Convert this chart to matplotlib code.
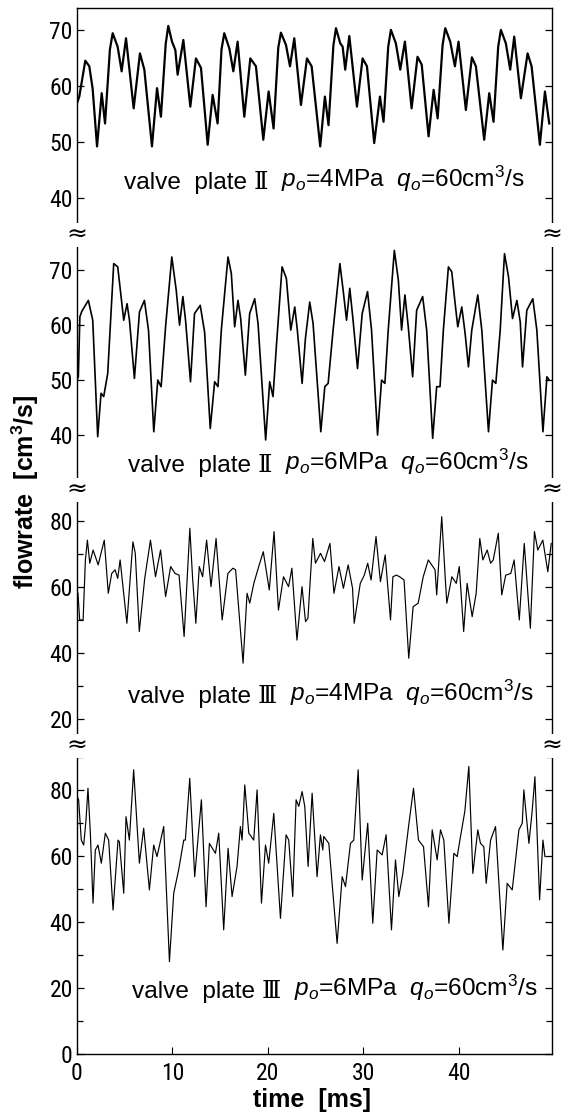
import matplotlib.pyplot as plt
from matplotlib.ticker import MultipleLocator

plt.rcParams['mathtext.fontset'] = 'custom'
plt.rcParams['mathtext.rm'] = 'Liberation Sans'
plt.rcParams['mathtext.it'] = 'Liberation Sans:italic'
plt.rcParams['mathtext.bf'] = 'Liberation Sans:bold'

# narrow face for the tick numbers, first one found is used
TICK_FONT = ['Liberation Sans Narrow', 'Noto Sans Condensed', 'Roboto Condensed',
             'Open Sans Condensed', 'DejaVu Sans Condensed', 'Liberation Sans']

# valve plate II, po=4MPa
time_1 = [0, 0.24, 0.87, 1.29, 1.64, 2.10, 2.59, 2.94, 3.45, 3.74, 4.26, 4.68, 5.14, 5.94, 6.60, 7.06,
          7.86, 8.39, 8.80, 9.30, 9.57, 9.96, 10.31, 10.55, 11.15, 11.88, 12.47, 13.0, 13.70, 14.22,
          14.74, 15.15, 15.44, 15.97, 16.39, 16.84, 17.54, 18.17, 18.76, 19.53, 20.09, 20.61, 21.10,
          21.38, 21.91, 22.33, 22.78, 23.48, 24.11, 24.6, 25.50, 25.99, 26.37, 26.88, 27.15, 27.6,
          27.85, 28.12, 28.55, 29.35, 29.94, 30.40, 31.16, 31.76, 32.14, 32.63, 32.91, 33.43, 33.89,
          34.38, 35.08, 35.70, 36.14, 36.86, 37.39, 37.81, 38.33, 38.61, 39.13, 39.62, 40.0, 40.77,
          41.40, 41.82, 42.69, 43.22, 43.67, 44.16, 44.44, 44.96, 45.42, 45.84, 46.54, 47.24, 47.66,
          48.53, 49.06, 49.51]
flow_1 = [56.9, 58.1, 64.5, 63.5, 59.5, 49.2, 58.7, 53.3, 66.5, 69.4, 67.0, 62.6, 68.5, 56.0, 65.8, 62.9,
          49.2, 59.6, 54.5, 67.5, 70.7, 67.9, 66.4, 62.0, 68.2, 56.3, 64.9, 63.2, 49.5, 58.4,
          53.3, 66.5, 69.4, 66.7, 62.6, 67.9, 54.5, 64.9, 63.5, 50.4, 59.0, 52.4, 66.8,
          69.5, 67.3, 63.5, 68.5, 56.6, 64.9, 63.5, 49.2, 58.1, 53.0, 67.2, 70.3, 67.6,
          67.0, 62.9, 68.9, 56.3, 64.9, 63.5, 49.8, 58.1, 53.6, 67.0, 70.0, 67.6, 62.9,
          67.9, 56.0, 65.2, 63.8, 51.0, 59.3, 54.2, 67.3, 70.3, 67.9, 63.5, 67.9, 55.7,
          65.1, 63.5, 50.4, 58.7, 53.6, 67.0, 70.0, 67.6, 62.9, 68.8, 57.8, 65.8, 63.5,
          49.5, 59.0, 53.3]

# valve plate II, po=6MPa
time_2 = [0, 0.14, 0.3, 0.5, 1.19, 1.65, 2.17, 2.52, 2.8, 3.22, 3.85, 4.27, 4.9, 5.25, 5.5, 6.02,
          6.55, 7.07, 7.5, 8.05, 8.47, 8.82, 9.3, 9.94, 10.40, 10.75, 11.10, 11.38, 11.90, 12.32,
          12.92, 13.38, 13.97, 14.43, 14.78, 15.13, 15.83, 16.18, 16.53, 16.88, 17.16, 17.65,
          18.10, 18.63, 18.98, 19.78, 20.2, 20.55, 20.9, 21.50, 21.95, 22.41, 22.83, 23.1, 23.60,
          23.95, 24.40, 24.75, 25.56, 25.98, 26.33, 26.85, 27.56, 27.9, 28.26, 28.6, 28.96, 29.41,
          29.9, 30.46, 30.88, 31.51, 31.93, 32.28, 32.63, 33.27, 33.69, 34.03, 34.38, 34.73, 35.19,
          35.61, 36.24, 36.66, 37.29, 37.71, 38.06, 38.41, 38.94, 39.29, 39.64, 39.92, 40.34, 40.69,
          41.04, 41.39, 42.02, 42.44, 43.14, 43.56, 43.91, 44.37, 44.82, 45.24, 45.66, 46.12, 46.47,
          46.71, 47.16, 47.79, 48.21, 48.85, 49.27, 49.5]
flow_2 = [50.0, 50.6, 61.5, 62.5, 64.5, 60.9, 39.7, 47.6, 47.0, 51.2, 71.2, 70.6, 60.9, 63.9, 60.9, 50.3,
          62.4, 64.5, 59.0, 40.6, 50.0, 48.8, 60.0, 72.4, 66.4, 60.0, 65.2, 60.9, 49.7, 62.1,
          63.6, 58.7, 41.2, 49.7, 48.8, 59.1, 72.4, 69.4, 59.7, 64.5, 61.2, 50.9,
          62.1, 64.8, 60.3, 39.1, 49.7, 47.0, 56.1, 70.6, 68.5, 59.1, 63.3, 59.1, 49.4,
          57.6, 64.2, 60.3, 40.6, 48.8, 49.4, 59.1, 71.2, 66.4, 60.9, 66.7, 60.6, 52.1,
          62.1, 66.1, 59.1, 40.0, 50.0, 49.4, 59.1, 73.6, 68.2, 59.1, 65.5, 59.7, 50.6,
          62.7, 65.2, 59.1, 39.4, 48.8, 48.8, 59.1, 70.6, 69.7, 64.0, 59.7, 63.3, 58.5,
          52.4, 59.1, 65.5, 59.1, 40.6, 50.0, 49.4, 59.1, 73.0, 68.8, 61.2, 64.5, 60.6,
          52.4, 62.7, 64.8, 59.1, 40.6, 50.6, 50.0]

# valve plate III, po=4MPa
time_3 = [0.1, 0.28, 0.64, 0.88, 1.09, 1.34, 1.69, 2.22, 2.86, 3.28, 3.64, 3.99, 4.27, 4.52, 5.23,
          5.86, 6.11, 6.53, 7.10, 7.70, 8.23, 8.76, 9.29, 9.82, 10.28, 10.70, 11.23, 11.83, 12.11,
          12.46, 12.82, 13.17, 13.59, 14.05, 14.58, 15.22, 15.82, 16.35, 16.63, 17.41, 17.83, 18.11,
          18.54, 19.0, 19.53, 20.16, 20.66, 21.12, 21.65, 22.18, 22.53, 23.06, 23.59, 23.96, 24.21,
          24.72, 25.0, 25.53, 25.95, 26.52, 26.94, 27.47, 27.93, 28.43, 28.89, 29.06, 29.70, 30.12,
          30.48, 30.83, 31.35, 31.81, 32.31, 32.87, 33.12, 33.48, 33.83, 34.29, 34.78, 35.24, 35.77,
          36.30, 36.83, 37.54, 37.71, 38.24, 38.60, 38.77, 39.30, 39.76, 40.08, 40.54, 40.90, 41.43,
          41.85, 42.23, 42.55, 43.01, 43.36, 43.64, 44.17, 44.53, 44.95, 45.48, 45.83, 46.37, 46.89,
          47.53, 47.96, 48.31, 48.84, 49.36, 49.72]
flow_3 = [58.1, 50.0, 50.0, 68.2, 74.2, 67.2, 71.2, 66.7, 74.2, 58.1, 64.1, 65.2, 62.6, 68.2, 49.0,
          73.7, 70.2, 46.5, 62.6, 74.2, 63.1, 71.2, 57.1, 66.2, 64.1, 63.6, 45.0, 77.8, 63.1,
          49.0, 66.2, 63.1, 74.2, 60.1, 74.7, 50.0, 64.1, 65.7, 65.2, 36.9, 58.1, 55.1,
          61.1, 65.7, 70.7, 59.1, 76.8, 53.0, 63.1, 60.1, 65.7, 43.9, 60.1, 49.5, 50.5,
          74.7, 67.2, 70.2, 67.7, 73.2, 58.1, 66.2, 59.6, 66.7, 59.6, 49.0, 61.1, 63.6,
          67.2, 62.1, 75.3, 61.6, 69.7, 50.0, 63.1, 63.6, 63.1, 62.1, 38.4, 54.0, 55.1,
          63.1, 68.2, 65.2, 57.6, 81.3, 63.1, 55.1, 63.1, 61.1, 66.2, 46.5, 61.1, 51.0,
          58.1, 74.7, 68.2, 71.2, 67.2, 68.2, 76.3, 57.6, 63.6, 64.1, 68.2, 50.0, 73.2,
          47.5, 76.8, 71.2, 74.2, 64.6, 73.2]

# valve plate III, po=6MPa
time_4 = [0, 0.17, 0.45, 0.70, 0.94, 1.15, 1.40, 1.68, 1.92, 2.2, 2.55, 2.97, 3.32, 3.78, 4.30, 4.44,
          4.90, 5.14, 5.49, 5.94, 6.54, 6.99, 7.59, 8.04, 8.39, 9.09, 9.69, 10.14, 10.66, 11.19,
          11.36, 11.82, 12.34, 13.04, 13.53, 13.88, 14.51, 14.86, 15.38, 15.84, 16.26, 16.78, 17.13,
          17.31, 17.59, 18.01, 18.53, 18.88, 19.34, 19.76, 20.1, 20.63, 21.33, 21.92, 22.2, 22.62,
          22.97, 23.25, 23.60, 23.88, 24.23, 24.65, 25.17, 25.52, 25.77, 25.87, 26.40, 27.27, 27.80,
          28.15, 28.67, 29.02, 29.48, 29.90, 30.48, 31.01, 31.47, 31.99, 32.41, 32.97, 33.39, 33.74,
          34.16, 34.76, 35.28, 35.80, 36.33, 36.85, 37.24, 37.76, 38.11, 38.46, 38.99, 39.51, 39.86,
          40.21, 40.66, 41.08, 41.50, 42.02, 42.30, 42.65, 42.90, 43.36, 43.88, 44.65, 45.10, 45.63,
          46.33, 46.68, 46.85, 47.38, 47.73, 48.01, 48.50, 48.85, 49.06]
flow_4 = [78.0, 77.0, 64.8, 63.3, 70.7, 80.5, 66.9, 45.7, 61.8, 63.3, 57.8, 66.9, 64.8, 43.6, 64.8, 64.3,
          48.7, 71.9, 64.8, 86.1, 57.8, 68.4, 49.7, 63.3, 59.8, 68.9, 28.0, 48.7, 55.8, 64.8,
          64.8, 83.5, 53.7, 77.0, 44.6, 63.8, 60.8, 66.9, 37.6, 62.3, 47.7, 56.8, 68.9,
          64.8, 81.5, 66.9, 64.8, 80.0, 45.7, 63.3, 57.8, 72.9, 41.1, 66.4, 64.8, 47.7,
          77.0, 75.0, 79.5, 75.0, 56.8, 79.0, 53.7, 66.4, 61.8, 65.9, 63.8, 33.5, 53.7,
          50.7, 63.8, 64.8, 86.1, 52.7, 69.9, 39.6, 61.8, 60.3, 66.4, 37.6, 58.8, 47.7,
          54.7, 68.9, 80.5, 64.8, 62.8, 44.6, 67.9, 58.8, 67.9, 64.8, 39.6, 60.8, 59.8,
          65.9, 73.5, 87.1, 54.7, 67.9, 63.8, 62.8, 51.7, 64.8, 68.9, 31.5, 51.7, 49.7,
          67.9, 69.9, 80.0, 63.8, 73.9, 84.0, 46.7, 64.8, 59.8]

plates = ['Ⅱ', 'Ⅱ', 'Ⅲ', 'Ⅲ']
pressures = ['4', '6', '4', '6']
series = [(time_1, flow_1), (time_2, flow_2), (time_3, flow_3), (time_4, flow_4)]
ylims = [(33.4, 73.9), (30.0, 76.4), (11.8, 89.4), (0, 93.3)]
yticks = [[40, 50, 60, 70], [40, 50, 60, 70], [20, 40, 60, 80], [0, 20, 40, 60, 80]]
line_w = [1.6, 1.2, 0.85, 0.85]

W, H = 570, 1116
left_px, right_px = 77, 552
bounds = [8, 235, 490, 746, 1054]
label_pos = [(0.099, 0.203), (0.107, 0.071), (0.107, 0.168), (0.116, 0.182)]
FS = 17.6

fig = plt.figure(figsize=(W / 100, H / 100), dpi=100)

for i in range(4):
    top, bot = bounds[i], bounds[i + 1]
    ax = fig.add_axes([left_px / W, 1 - bot / H, (right_px - left_px) / W, (bot - top) / H])
    t, q = series[i]
    ax.plot(t, q, color='black', lw=line_w[i], solid_joinstyle='round')
    ax.set_xlim(0, 49.8)
    ax.set_ylim(*ylims[i])
    ax.set_yticks(yticks[i])
    if i >= 2:
        ax.yaxis.set_minor_locator(MultipleLocator(10))
    ax.tick_params(axis='y', which='both', direction='in', right=True, length=5, pad=3,
                   labelsize=17, width=0.9)
    ax.tick_params(axis='y', which='minor', length=4)
    for lab in ax.get_yticklabels():
        lab.set_family(TICK_FONT)
    ax.spines['top'].set_visible(i == 0)
    ax.spines['bottom'].set_visible(i == 3)
    for s in ax.spines.values():
        s.set_linewidth(1.0)
    if i < 3:
        ax.set_xticks([])
    else:
        ax.set_xticks([0, 10, 20, 30, 40])
        ax.tick_params(axis='x', direction='in', length=5, pad=6, labelsize=17)
        for lab in ax.get_xticklabels():
            lab.set_family(TICK_FONT)

    lx, ly = label_pos[i]
    t1 = ax.text(lx, ly, 'valve  plate ', transform=ax.transAxes, fontsize=FS,
                 family='Liberation Sans', va='baseline', ha='left')
    t2 = ax.annotate(plates[i], xy=(1, 0), xycoords=t1, fontsize=FS,
                     family='DejaVu Serif', va='bottom', ha='left')
    ax.annotate('  $p_o$=' + pressures[i] + 'MPa  $q_o$=60cm$^3$/s', xy=(1, 0), xycoords=t2,
                fontsize=FS, family='Liberation Sans', va='bottom', ha='left')

# axis break marks
for y in bounds[1:4]:
    for x in (left_px, right_px):
        fig.text(x / W, 1 - y / H, '≈', fontsize=18, ha='center', va='center',
                 family='DejaVu Sans',
                 bbox=dict(facecolor='white', edgecolor='none', pad=0))

fig.text(25 / W, 1 - 492 / H, r'flowrate  [cm$^\mathbf{3}$/s]', rotation=90, fontsize=18,
         fontweight='bold', family='Liberation Sans', ha='center', va='center')
fig.text(312 / W, 1 - 1100 / H, 'time  [ms]', fontsize=18, fontweight='bold',
         family='Liberation Sans', ha='center', va='center')

fig.savefig('out.png', dpi=100)
